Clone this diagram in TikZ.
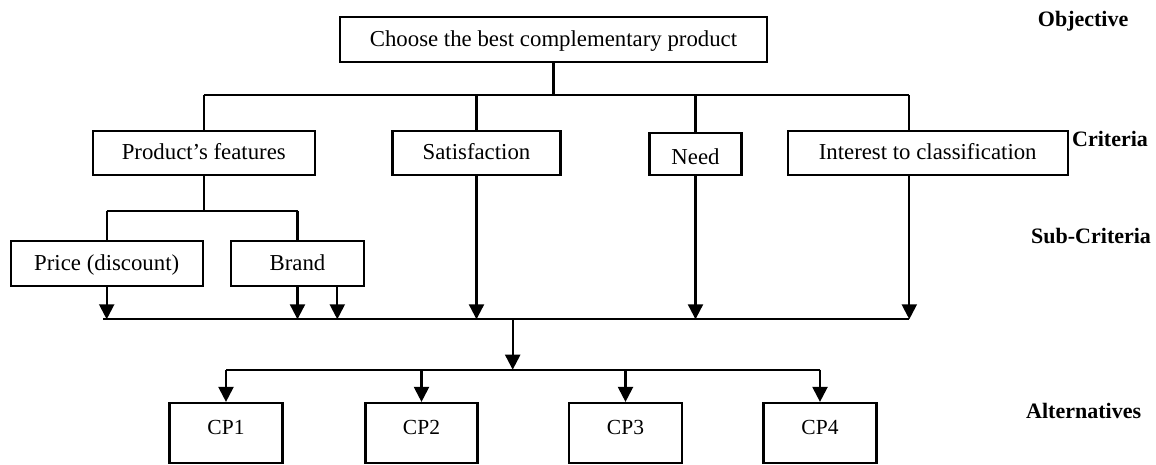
\documentclass[tikz,border=0pt]{standalone}
\usepackage{fontspec}
\setmainfont{Liberation Serif}
\usetikzlibrary{arrows.meta}
\begin{document}
\begin{tikzpicture}[x=1pt,y=-1pt,
  box/.style={draw, line width=2.2pt, rectangle, inner sep=0pt, font=\fontsize{22.8}{26}\selectfont, text height=16pt, text depth=2pt},
  cpbox/.style={box, text height=16pt, text depth=13pt, font=\fontsize{21.5}{26}\selectfont},
  lvl/.style={anchor=base west, inner sep=0pt, font=\fontsize{22}{26}\selectfont\bfseries},
  conn/.style={line width=2.2pt},
  arr/.style={line width=2.2pt, -{Triangle[length=15pt,width=15pt]}}]
\useasboundingbox (0,0) rectangle (1156,464);
% boxes
\node[box, minimum width=427pt, minimum height=45pt] (top) at (553.5,39.8) {Choose the best complementary product};
\node[box, minimum width=222pt, minimum height=44pt] (pf) at (203.8,152.8) {Product’s features};
\node[box, minimum width=168pt, minimum height=44pt] (sat) at (476.5,152.8) {Satisfaction};
\node[box, minimum width=92pt, minimum height=42pt] (need) at (695.5,154.2) {\raisebox{-3pt}{Need}};
\node[box, minimum width=280pt, minimum height=44pt] (int) at (927.7,152.8) {Interest to classification};
\node[box, minimum width=192pt, minimum height=45pt] (price) at (106.7,263.7) {Price (discount)};
\node[box, minimum width=133pt, minimum height=45pt] (brand) at (297.5,263.7) {Brand};
\node[cpbox, minimum width=113pt, minimum height=60pt] (cp1) at (226,433) {CP1};
\node[cpbox, minimum width=112pt, minimum height=60pt] (cp2) at (421.5,433) {CP2};
\node[cpbox, minimum width=113pt, minimum height=60pt] (cp3) at (625.5,433) {CP3};
\node[cpbox, minimum width=113pt, minimum height=60pt] (cp4) at (820,433) {CP4};
% level labels
\node[lvl] (lo) at (1037.7,26) {Objective};
\node[lvl] (lc) at (1072,146.7) {Criteria};
\node[lvl] (ls) at (1031,243.3) {Sub-Criteria};
\node[lvl] (la) at (1026,418.3) {Alternatives};
% coordinates
\coordinate (h1) at (553,95);
\coordinate (h1r) at (908.7,95);
\coordinate (s1) at (204,211);
\coordinate (bl) at (103.3,319.3);
\coordinate (br) at (908.7,319.3);
\coordinate (bs) at (512.7,319.3);
\coordinate (al) at (512.7,369.7);
\coordinate (b2) at (337.3,286);
\coordinate (i2) at (909.3,175);
% top connectors
\draw[conn] (top.south) -- (top.south |- h1);
\draw[conn] (pf.north |- h1) -- (h1r);
\draw[conn] (pf.north |- h1) -- (pf.north);
\draw[conn] (sat.north |- h1) -- (sat.north);
\draw[conn] (need.north |- h1) -- (need.north);
\draw[conn] (h1r) -- (h1r |- int.north);
% sub criteria
\draw[conn] (pf.south) -- (pf.south |- s1);
\draw[conn] (price.north |- s1) -- (brand.north |- s1);
\draw[conn] (price.north |- s1) -- (price.north);
\draw[conn] (brand.north |- s1) -- (brand.north);
% collecting line
\draw[conn] (bl) -- (br);
\draw[arr] (price.south) -- (price.south |- bl);
\draw[arr] (brand.south) -- (brand.south |- bl);
\draw[arr] (b2) -- (b2 |- bl);
\draw[arr] (sat.south) -- (sat.south |- bl);
\draw[arr] (need.south) -- (need.south |- bl);
\draw[arr] (i2) -- (i2 |- bl);
% to alternatives
\draw[arr] (bs) -- (al);
\draw[conn] (cp1.north |- al) -- (cp4.north |- al);
\draw[arr] (cp1.north |- al) -- (cp1.north);
\draw[arr] (cp2.north |- al) -- (cp2.north);
\draw[arr] (cp3.north |- al) -- (cp3.north);
\draw[arr] (cp4.north |- al) -- (cp4.north);
\end{tikzpicture}
\end{document}
